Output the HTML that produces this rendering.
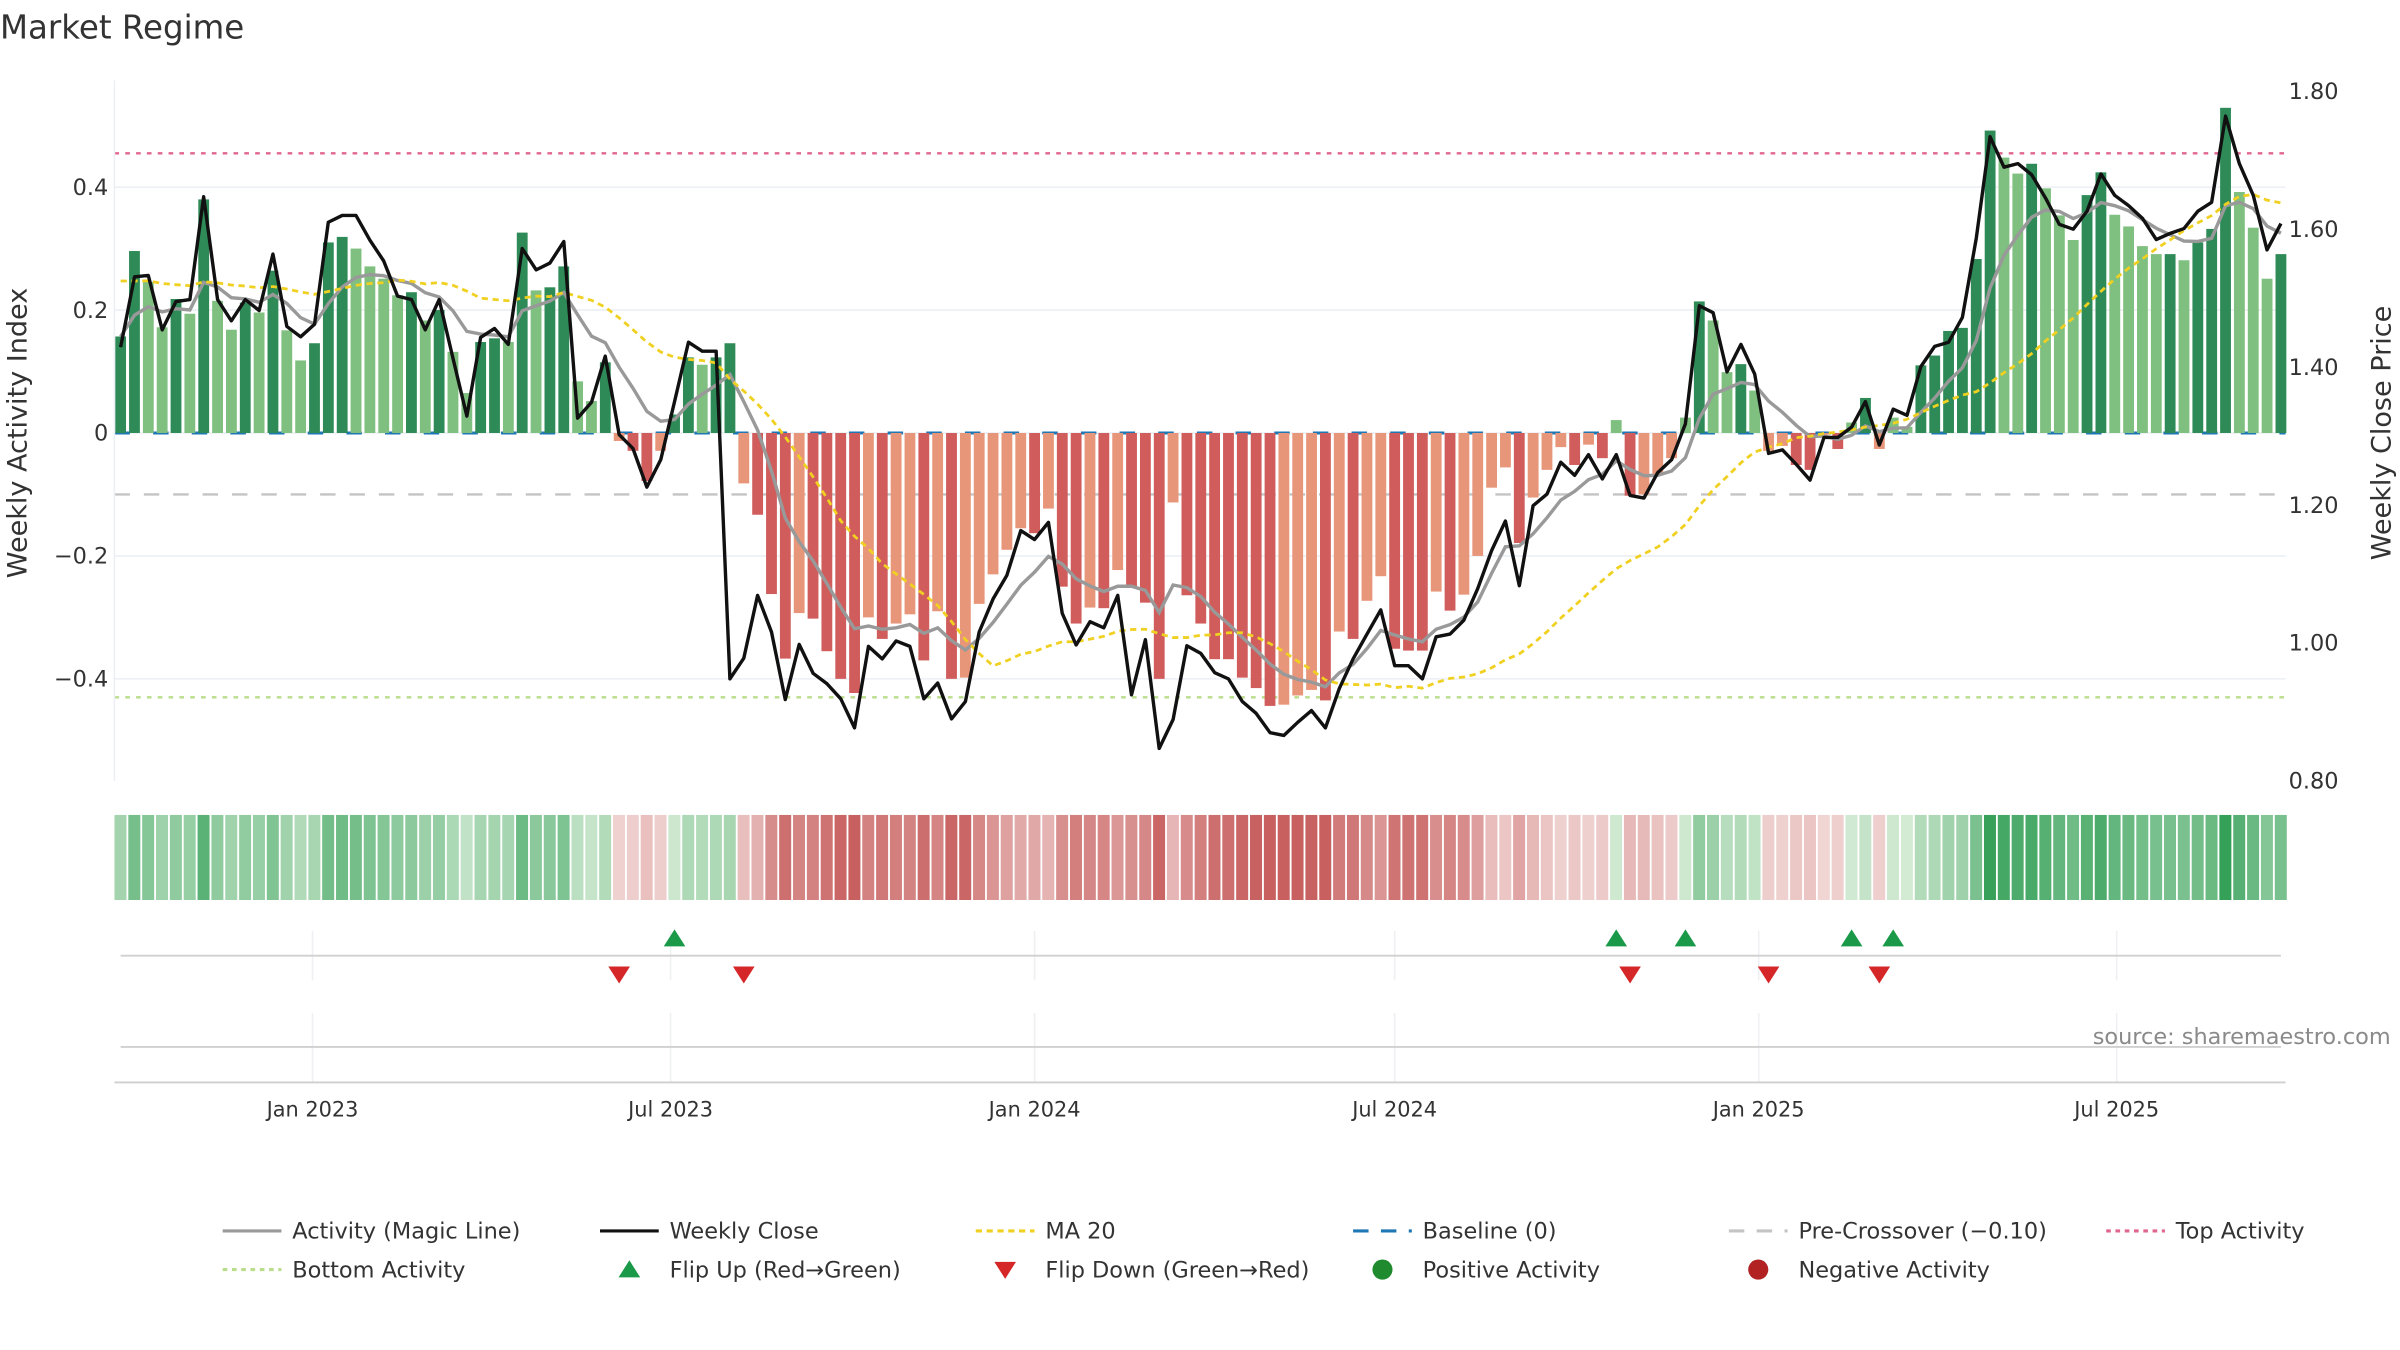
<!DOCTYPE html>
<html><head><meta charset="utf-8"><title>Market Regime</title>
<style>
html,body{margin:0;padding:0;background:#fff;}
svg{display:block;font-family:"DejaVu Sans","Liberation Sans",sans-serif;}
</style></head>
<body>
<svg id="chart" width="2400" height="1350" viewBox="0 0 1552 873" xmlns="http://www.w3.org/2000/svg">
<rect width="1552" height="873" fill="#fff"/>
<text x="0" y="25" font-size="21" fill="#333">Market Regime</text>
<g id="grid"></g>
<g id="refs"></g>
<g id="bars"></g>
<g id="lines"></g>
<g id="axes"></g>
<g id="strip"></g>
<g id="flips"></g>
<g id="legend"></g>
<text x="1546" y="675" font-size="14.5" fill="#8a8a8a" text-anchor="end">source: sharemaestro.com</text>
</svg>
<script>
const activity = [0.157,0.296,0.246,0.172,0.218,0.194,0.38,0.215,0.168,0.212,0.196,0.264,0.167,0.118,0.146,0.31,0.319,0.30,0.271,0.251,0.224,0.229,0.183,0.20,0.132,0.065,0.148,0.154,0.148,0.326,0.232,0.237,0.271,0.084,0.052,0.115,
-0.013,-0.029,-0.078,-0.029,0.03,0.123,0.111,0.123,0.146,
-0.082,-0.133,-0.262,-0.367,-0.293,-0.302,-0.355,-0.40,-0.423,-0.30,-0.335,-0.31,-0.295,-0.37,-0.29,-0.40,-0.398,-0.278,-0.23,-0.19,-0.155,-0.163,-0.123,-0.25,-0.31,-0.284,-0.285,-0.223,-0.25,-0.276,-0.40,-0.113,-0.264,-0.31,-0.368,-0.368,
-0.398,-0.415,-0.444,-0.442,-0.427,-0.418,-0.435,-0.323,-0.335,-0.273,-0.233,-0.351,-0.354,-0.354,-0.258,-0.289,-0.263,-0.20,-0.089,-0.056,-0.179,-0.105,-0.06,-0.023,-0.052,-0.019,-0.041,
0.021,-0.102,-0.10,-0.067,-0.041,0.025,0.214,0.183,0.099,0.112,0.069,-0.029,-0.021,-0.052,-0.06,-0.003,-0.026,0.017,0.057,-0.026,0.025,0.01,
0.11,0.126,0.166,0.171,0.283,0.492,0.448,0.422,0.438,0.398,0.354,0.314,0.387,0.424,0.355,0.336,0.304,0.291,0.291,0.281,0.31,0.332,0.529,0.392,0.334,0.251,0.291];
const closes = [1.429,1.531,1.533,1.454,1.495,1.498,1.647,1.498,1.467,1.498,1.482,1.564,1.459,1.444,1.462,1.610,1.620,1.620,1.584,1.554,1.503,1.498,1.454,1.498,1.413,1.329,1.443,1.456,1.433,1.572,1.541,1.551,1.582,1.326,1.349,1.416,1.302,1.282,1.226,1.266,1.35,1.436,1.423,1.423,0.948,
0.978,1.069,1.016,0.918,0.998,0.956,0.941,0.919,0.877,0.995,0.977,1.003,0.995,0.919,0.942,0.890,0.915,1.016,1.064,1.098,1.163,1.150,1.175,1.043,0.997,1.031,1.022,1.069,0.925,1.005,0.847,0.889,0.996,0.985,0.957,0.948,
0.915,0.898,0.870,0.866,0.885,0.902,0.877,0.934,0.977,1.013,1.048,0.967,0.967,0.948,1.009,1.013,1.033,1.079,1.134,1.177,1.083,1.199,1.216,1.262,1.243,1.273,1.238,1.273,1.214,1.210,1.247,1.266,1.318,1.489,1.479,1.393,1.433,1.390,1.275,1.280,
1.259,1.236,1.298,1.298,1.313,1.350,1.287,1.339,1.330,1.401,1.430,1.436,1.472,1.587,1.734,1.690,1.695,1.679,1.645,1.607,1.600,1.626,1.680,1.649,1.634,1.616,1.585,1.594,1.601,1.626,1.639,1.764,1.695,1.649,1.570,1.608];
const leftTicks = [0.4,0.2,0,-0.2,-0.4];
const leftTickLabels = ["0.4","0.2","0","\u22120.2","\u22120.4"];
const rightTicks = [1.8,1.6,1.4,1.2,1.0,0.8];
const rightTickLabels = ["1.80","1.60","1.40","1.20","1.00","0.80"];
const dateTicks = ["2023-01-01","2023-07-01","2024-01-01","2024-07-01","2025-01-01","2025-07-01"];
const dateTickLabels = ["Jan 2023","Jul 2023","Jan 2024","Jul 2024","Jan 2025","Jul 2025"];
const topActivity = 0.455;
const bottomActivity = -0.43;
const preCrossover = -0.10;
const startDate = "2022-09-26";
const ma20Seed = 1.53;

const NS="http://www.w3.org/2000/svg";
function mk(tag,attrs,parent){const e=document.createElementNS(NS,tag);for(const k in attrs)e.setAttribute(k,attrs[k]);parent.appendChild(e);return e;}
const X0=78, X1=1475, PL=74, PR=1478;
const n=activity.length;
const step=(X1-X0)/(n-1);
const xi=i=>X0+i*step;
const yL=v=>280-v*397.5;
const yR=v=>505-(v-0.8)*446;
const t0=new Date(startDate+"T00:00:00Z").getTime();
const xd=s=>X0+((new Date(s+"T00:00:00Z").getTime()-t0)/86400000)/7*step;

const grid=document.getElementById('grid');
leftTicks.forEach((t,k)=>{
  const l=mk('line',{x1:PL,x2:PR,y1:yL(t),y2:yL(t),stroke:'#eceff4','stroke-width':1},grid);
  
  
});
const refs=document.getElementById('refs');
const refDefs=[[topActivity,'#e0668e','3,4',1.5,'top-activity-line'],[bottomActivity,'#b9dd8a','3,4',1.5,'bottom-activity-line'],[preCrossover,'#c4c4c4','10,9',1.5,'pre-crossover-line']];
refDefs.forEach(r=>{
  const l=mk('line',{x1:PL,x2:PR,y1:yL(r[0]),y2:yL(r[0]),stroke:r[1],'stroke-dasharray':r[2],'stroke-width':r[3]},refs);
  
  
});
const bars=document.getElementById('bars');
activity.forEach((v,i)=>{
  const prev=i>0?Math.abs(activity[i-1]):0;
  const dark=Math.abs(v)>=prev;
  const fill=v>=0?(dark?'#2e8b57':'#7fbf7f'):(dark?'#d05c5c':'#e8967a');
  const y=Math.min(yL(v),yL(0)), h=Math.abs(yL(v)-yL(0));
  const r=mk('rect',{x:xi(i)-3.5,y:y,width:7,height:Math.max(h,0.5),fill:fill},bars);
  
  
});
const bl=mk('line',{x1:PL,x2:PR,y1:yL(0),y2:yL(0),stroke:'#1f77b4','stroke-dasharray':'10,15','stroke-width':2},refs);



const lines=document.getElementById('lines');
const magic=[];let e=activity[0];
activity.forEach((v,i)=>{e=i===0?v:e+0.25*(v-e);magic.push(e);});
const ma=[];
closes.forEach((c,i)=>{
  const s=closes.slice(Math.max(0,i-19),i+1);
  const pad=20-s.length;
  ma.push((s.reduce((a,b)=>a+b,0)+pad*ma20Seed)/20);
});
const pth=(arr,f)=>arr.map((v,i)=>(i?'L':'M')+xi(i).toFixed(1)+','+f(v).toFixed(1)).join('');
const p1=mk('path',{d:pth(magic,yL),fill:'none',stroke:'#999','stroke-width':2.2},lines);


const p2=mk('path',{d:pth(ma,yR),fill:'none',stroke:'#f0d020','stroke-width':1.8,'stroke-dasharray':'4,3'},lines);


const p3=mk('path',{d:pth(closes,yR),fill:'none',stroke:'#111','stroke-width':2.2,'stroke-linejoin':'round'},lines);



const axes=document.getElementById('axes');
const sp=mk('line',{x1:PL,x2:PL,y1:52,y2:505,stroke:'#eceff4','stroke-width':1},axes);


leftTicks.forEach((t,k)=>{
  const tx=mk('text',{x:70,y:yL(t)+5,'font-size':14.5,fill:'#333','text-anchor':'end'},axes);
  tx.textContent=leftTickLabels[k];
  
  
});
rightTicks.forEach((t,k)=>{
  const tx=mk('text',{x:1480,y:yR(t)+5,'font-size':14.5,fill:'#333'},axes);
  tx.textContent=rightTickLabels[k];
  
  
});
const yt1=mk('text',{x:17,y:280,'font-size':17.5,fill:'#333','text-anchor':'middle',transform:'rotate(-90 17 280)'},axes);
yt1.textContent='Weekly Activity Index';


const yt2=mk('text',{x:1546,y:280,'font-size':17.5,fill:'#333','text-anchor':'middle',transform:'rotate(-90 1546 280)'},axes);
yt2.textContent='Weekly Close Price';


[[602,634],[655,700]].forEach((r,k)=>{
  dateTicks.forEach(d=>{
    const l=mk('line',{x1:xd(d),x2:xd(d),y1:r[0],y2:r[1],stroke:'#eef0f3','stroke-width':1},axes);
    
    
  });
});
const ml=mk('line',{x1:78,x2:1475,y1:618,y2:618,stroke:'#d0d0d0','stroke-width':1.2},axes);


const ml2=mk('line',{x1:78,x2:1475,y1:677,y2:677,stroke:'#d0d0d0','stroke-width':1.2},axes);


const xa=mk('line',{x1:PL,x2:PR,y1:700,y2:700,stroke:'#cfcfcf','stroke-width':1.2},axes);


dateTicks.forEach((d,k)=>{
  const tx=mk('text',{x:xd(d),y:722,'font-size':13.5,fill:'#333','text-anchor':'middle'},axes);
  tx.textContent=dateTickLabels[k];
  
  
});
function lerp(a,b,t){return a.map((v,i)=>Math.round(v+(b[i]-v)*t));}
const strip=document.getElementById('strip');
activity.forEach((v,i)=>{
  let c;
  if(v>=0){c=lerp([214,236,214],[52,160,88],Math.min(v/0.5,1));}
  else{c=lerp([240,214,212],[200,96,96],Math.min(-v/0.42,1));}
  const r=mk('rect',{x:xi(i)-step/2+0.5,y:527,width:step-1.2,height:55,fill:'rgb('+c.join(',')+')'},strip);
  
  
});
const flips=document.getElementById('flips');
for(let i=1;i<n;i++){
  const a=activity[i-1],b=activity[i];
  if(a<0&&b>=0){
    const x=xi(i);
    const t=mk('path',{d:`M${x-7},${612}L${x+7},${612}L${x},${601}Z`,fill:'#1a9a48'},flips);
    
    
  } else if(a>=0&&b<0){
    const x=xi(i);
    const t=mk('path',{d:`M${x-7},${625}L${x+7},${625}L${x},${636}Z`,fill:'#d62728'},flips);
    
    
  }
}
const lg=document.getElementById('legend');
const items=[
 [144,796,'line','#999','none','Activity (Magic Line)','legend-magic-line'],
 [388,796,'line','#111','none','Weekly Close','legend-weekly-close'],
 [631,796,'line','#f0d020','4,3','MA 20','legend-ma20'],
 [875,796,'line','#1f77b4','10,8','Baseline (0)','legend-baseline'],
 [1118,796,'line','#c4c4c4','10,8','Pre-Crossover (\u22120.10)','legend-pre-crossover'],
 [1362,796,'line','#e0668e','3,3','Top Activity','legend-top-activity'],
 [144,821,'line','#b9dd8a','3,3','Bottom Activity','legend-bottom-activity'],
 [388,821,'up','#1a9a48','','Flip Up (Red\u2192Green)','legend-flip-up'],
 [631,821,'down','#d62728','','Flip Down (Green\u2192Red)','legend-flip-down'],
 [875,821,'dot','#1f8a2e','','Positive Activity','legend-positive'],
 [1118,821,'dot','#b22222','','Negative Activity','legend-negative']];
items.forEach(it=>{
  const g=mk('g',{},lg);
  
  
  const x=it[0],y=it[1];
  if(it[2]==='line'){mk('line',{x1:x,x2:x+38,y1:y,y2:y,stroke:it[3],'stroke-width':2,'stroke-dasharray':it[4]},g);}
  else if(it[2]==='up'){mk('path',{d:`M${x+12},${y+5}L${x+26},${y+5}L${x+19},${y-6}Z`,fill:it[3]},g);}
  else if(it[2]==='down'){mk('path',{d:`M${x+12},${y-5}L${x+26},${y-5}L${x+19},${y+6}Z`,fill:it[3]},g);}
  else {mk('circle',{cx:x+19,cy:y,r:6.5,fill:it[3]},g);}
  const t=mk('text',{x:x+45,y:y+5,'font-size':14.5,fill:'#333'},g);
  t.textContent=it[5];
});
</script>
</body></html>
